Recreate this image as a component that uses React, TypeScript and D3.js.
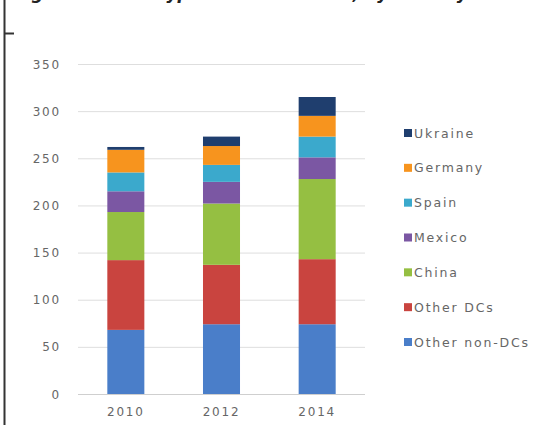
import React from "react";
import * as d3 from "d3";

const years = ["2010", "2012", "2014"];
const seriesNames = ["Other non-DCs", "Other DCs", "China", "Mexico", "Spain", "Germany", "Ukraine"];
const otherNonDCs = [68, 74, 74];
const otherDCs = [74, 63, 69];
const china = [51, 65, 85];
const mexico = [22, 23, 23];
const spain = [20, 18, 22];
const germany = [24, 20, 22];
const ukraine = [3, 10, 20];
const yTicks = [0, 50, 100, 150, 200, 250, 300, 350];
const colors = ["#4a7ec9", "#c9443f", "#95bf42", "#7b57a3", "#3ba9cc", "#f7941e", "#1f3e6e"];

const W = 536;
const H = 425;

export default function App() {
  const seriesValues = [otherNonDCs, otherDCs, china, mexico, spain, germany, ukraine];
  const rows = years.map((y, i) => {
    const r: any = { year: y };
    seriesNames.forEach((s, k) => (r[s] = seriesValues[k][i]));
    return r;
  });
  const stacked = d3.stack<any>().keys(seriesNames)(rows);

  const x = d3.scaleBand().domain(years).range([78, 365]).paddingInner(0.613).paddingOuter(0.3065);
  const y = d3.scaleLinear().domain([0, 350]).range([394, 64]);

  const font = "'DejaVu Sans', Verdana, sans-serif";
  const legendY = d3.scalePoint().domain([...seriesNames].reverse()).range([133, 342]);

  return (
    <svg width={W} height={H} style={{ position: "absolute", left: 0, top: 0, background: "#fff" }}>
      <rect x={0} y={0} width={W} height={H} fill="#fff" />
      <text x={14} y={-1.5} fontFamily={font} fontWeight="bold" fontStyle="italic" fontSize={17} fill="#222">
        Figure 3: Main types of renewables, by country
      </text>
      <line x1={4.5} x2={4.5} y1={0} y2={H} stroke="#333" strokeWidth={2} />
      <line x1={4} x2={14} y1={33.5} y2={33.5} stroke="#333" strokeWidth={2} />
      {yTicks.map((t) => (
        <g key={t}>
          <line x1={78} x2={365} y1={y(t) + 0.5} y2={y(t) + 0.5} stroke={t === 0 ? "#cfcfcf" : "#dedede"} strokeWidth={1} />
          <text x={61} y={y(t) + 4.5} textAnchor="end" fontFamily={font} fontSize={12} letterSpacing={1.8} fill="#666">
            {t}
          </text>
        </g>
      ))}
      {stacked.map((s, k) => (
        <g key={s.key} fill={colors[k]}>
          {s.map((d, i) => (
            <rect key={i} x={x(years[i])} width={x.bandwidth()} y={y(d[1])} height={y(d[0]) - y(d[1])} />
          ))}
        </g>
      ))}
      {years.map((yr) => (
        <text key={yr} x={(x(yr) as number) + x.bandwidth() / 2} y={416} textAnchor="middle" fontFamily={font} fontSize={12} letterSpacing={1.8} fill="#666">
          {yr}
        </text>
      ))}
      {seriesNames.map((s, k) => (
        <g key={s}>
          <rect x={404} y={(legendY(s) as number) - 4} width={8} height={8} fill={colors[k]} />
          <text x={414} y={(legendY(s) as number) + 4.5} fontFamily={font} fontSize={12.5} letterSpacing={1.8} fill="#666">
            {s}
          </text>
        </g>
      ))}
    </svg>
  );
}
